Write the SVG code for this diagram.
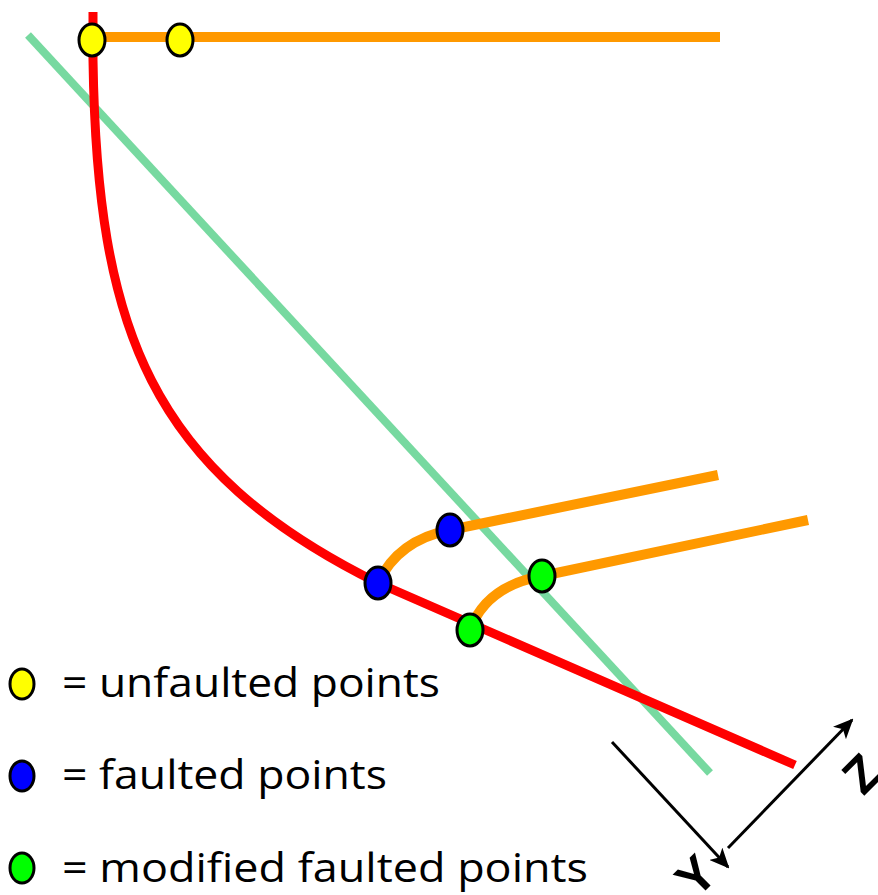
<svg xmlns="http://www.w3.org/2000/svg" width="878" height="895" viewBox="0 0 878 895">
<style>
.or{fill:none;stroke:#ff9900;stroke-width:10}
.rd{fill:none;stroke:#ff0000;stroke-width:9}
.gl{fill:none;stroke:#77d9a0;stroke-width:8}
.ax{fill:none;stroke:#000;stroke-width:3}
.pt{stroke:#000;stroke-width:3}
.lab{font-family:"Open Sans","Liberation Sans",sans-serif;font-size:40px;fill:#000}
.axl{font-family:"Liberation Sans",sans-serif;font-weight:bold;font-size:50px;fill:#000}
</style>
<defs>
<marker id="ah" markerWidth="20" markerHeight="18" refX="18" refY="9" orient="auto" markerUnits="userSpaceOnUse" viewBox="0 0 20 18">
<path d="M0,0 L20,9 L0,18 L5,9 Z" fill="#000"/>
</marker>
</defs>
<g id="connectors">
<path class="or" d="M92,37 L720,37"/>
<path class="gl" d="M28,35 L710,773"/>
<path class="rd" d="M93,12 L93,60 C97,330 150,470 378,583 L795,765"/>
<path class="or" d="M378,583 Q398,540 450,530 L718,475"/>
<path class="or" d="M470,630 Q486,586 542,576 L808,520"/>
<line class="ax" x1="612" y1="742" x2="728" y2="867" marker-end="url(#ah)"/>
<line class="ax" x1="728" y1="848" x2="852" y2="720" marker-end="url(#ah)"/>
</g>
<g id="p-yellow1"><ellipse class="pt" cx="92" cy="40" rx="13" ry="16" fill="#ffff00"/></g>
<g id="p-yellow2"><ellipse class="pt" cx="180" cy="40" rx="13" ry="16" fill="#ffff00"/></g>
<g id="p-blue1"><ellipse class="pt" cx="378" cy="583" rx="13" ry="16" fill="#0000ff"/></g>
<g id="p-blue2"><ellipse class="pt" cx="450" cy="530" rx="13" ry="16" fill="#0000ff"/></g>
<g id="p-green1"><ellipse class="pt" cx="470" cy="630" rx="13" ry="16" fill="#00ff00"/></g>
<g id="p-green2"><ellipse class="pt" cx="542" cy="576" rx="13" ry="16" fill="#00ff00"/></g>
<g id="label-y"><text class="axl" transform="translate(708,888) rotate(-45)" text-anchor="middle">Y</text></g>
<g id="label-z"><text class="axl" transform="translate(874,786) rotate(-45)" text-anchor="middle">Z</text></g>
<g id="legend">
<ellipse class="pt" cx="22" cy="684" rx="12" ry="15" fill="#ffff00"/>
<text class="lab" x="62" y="697" textLength="378" lengthAdjust="spacingAndGlyphs">= unfaulted points</text>
<ellipse class="pt" cx="22" cy="776" rx="12" ry="15" fill="#0000ff"/>
<text class="lab" x="62" y="789" textLength="325" lengthAdjust="spacingAndGlyphs">= faulted points</text>
<ellipse class="pt" cx="22" cy="868" rx="12" ry="15" fill="#00ff00"/>
<text class="lab" x="62" y="882" textLength="526" lengthAdjust="spacingAndGlyphs">= modified faulted points</text>
</g>
</svg>
